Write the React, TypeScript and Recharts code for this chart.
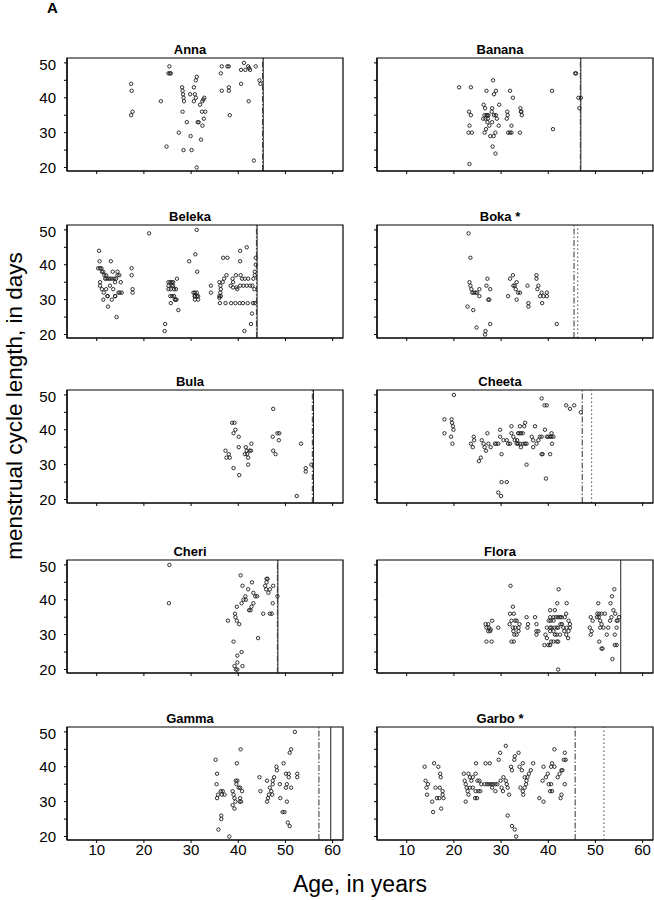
import React from 'react';
import { ScatterChart, Scatter, XAxis, YAxis, ReferenceLine, ReferenceArea } from 'recharts';

const ageTicks = [10, 20, 30, 40, 50, 60];
const cycleTicks = [20, 25, 30, 35, 40, 45, 50];
const AGE_MIN = 3.7;
const AGE_MAX = 62.2;
const CYC_MIN = 19;
const CYC_MAX = 51.4;

const anna = [[17.3,44],[17.4,42],[17.6,36],[17.3,35],[23.6,39],[24.8,26],[25.4,49],[25.2,47],[25.5,47],[25.7,47],[27.4,30],[28.1,43],[28.2,42],[28.3,41],[28.4,40],[28.5,39],[28.2,36],[28.4,25],[29.1,33],[29.8,41],[29.9,29],[30.1,25],[30.6,43],[30.6,39],[30.8,41],[31.0,45],[31.2,46],[31.0,40],[31.2,20],[31.4,33],[31.6,33],[31.9,38],[32.1,28],[32.4,32],[32.3,36],[33.0,36],[32.4,39],[32.6,39.5],[32.8,40],[32.7,34],[36.3,47],[36.5,49],[36.5,42],[37.7,49],[38.0,49],[38.0,43],[38.0,42],[38.2,35],[40.6,48],[41.5,48],[40.6,44],[41.2,50],[42.1,49],[42.3,48.5],[42.5,48],[42.2,39],[43.3,22],[43.7,49],[44.5,45],[44.7,44]];
const banana = [[21.1,43],[23.6,43],[23.2,36],[23.6,35],[23.3,32],[23.1,30],[23.8,30],[23.3,21],[26.3,38],[26.6,37],[26.9,42],[26.5,35],[26.2,34],[26.7,34],[27.1,33],[26.8,31],[26.5,30],[26.9,35],[27.1,35],[27.3,35],[27.2,34],[27.5,32],[27.7,29],[28.0,36],[28.1,37],[28.1,33],[28.3,45],[28.2,26],[28.4,29],[28.5,35],[28.9,35],[28.5,41],[28.9,42],[28.8,24],[28.8,30],[29.1,34],[29.5,32],[29.6,38],[31.2,34],[31.3,36],[31.4,35],[31.5,30],[31.9,30],[32.2,30],[31.9,42],[32.2,32],[32.5,40],[34.0,30],[34.1,37],[34.2,36],[34.3,36],[34.4,35],[40.8,42],[41.0,31],[45.7,47],[45.9,47],[46.4,40],[46.9,40],[46.6,37]];
const beleka = [[10.5,44],[10.6,41],[10.3,39],[10.7,39],[11.0,39],[13.0,41],[11.1,38],[11.4,38],[11.6,37],[10.7,35],[10.7,34],[11.8,36],[12.1,36],[12.5,36],[12.8,36],[13.2,36],[13.7,36],[14.1,36],[12.0,37],[13.4,38],[14.4,38],[13.9,35],[14.4,37],[14.8,37],[15.1,35],[11.1,33],[12.0,33],[12.8,34],[13.5,33],[14.6,32],[14.9,32],[15.3,32],[11.5,32],[12.3,31],[13.9,31],[17.4,39],[17.4,37],[17.6,33],[17.6,32],[21.1,49],[25.2,35],[25.6,35],[25.9,35],[26.2,35],[25.2,34],[25.9,34],[26.2,34],[27.0,36],[25.2,33],[25.7,33],[26.4,33],[26.8,33],[25.6,31],[29.6,41],[30.9,43],[31.2,50],[31.3,38],[30.5,32],[30.8,32],[31.2,32],[30.8,31],[31.5,31],[34.2,34],[34.2,32],[36.0,35],[36.2,34],[36.3,33],[36.2,32],[36.3,31],[36.7,35],[37.0,36],[37.5,37],[36.8,42],[37.7,42],[38.8,36],[38.9,35],[38.4,34],[38.9,33.5],[39.6,33.5],[40.4,34],[41.1,34],[41.8,34],[42.5,34],[43.0,34],[40.4,44],[41.8,45],[40.4,41],[39.5,37],[40.5,37],[40.8,36],[41.4,36],[42.1,36],[43.5,38],[43.5,37],[43.2,36],[43.7,42],[43.7,40],[43.4,33],[39.8,33],[11.4,30],[12.3,31],[13.2,30],[13.9,31],[12.4,28],[14.2,25],[24.5,23],[24.4,21],[26.0,31],[26.4,31],[26.9,30],[26.6,30],[26.7,30],[25.7,29],[27.3,27],[30.8,30],[31.5,30],[30.8,31],[31.2,31],[36.1,29],[37.3,29],[38.5,29],[39.4,29],[40.3,29],[41.0,29],[42.0,29],[43.1,29],[36.0,31],[36.0,30.5],[42.7,23],[41.3,21],[42.9,26],[43.5,29]];
const boka = [[23.1,49],[23.5,42],[23.3,35],[23.5,34],[23.7,33],[23.9,32],[24.2,32],[24.6,32],[24.9,32],[25.4,33],[25.4,31],[27.1,36],[26.9,34],[27.7,33],[27.3,30],[27.5,30],[31.9,36],[32.5,37],[32.6,34],[32.9,34],[33.3,35],[33.1,33],[33.6,32],[34.0,32],[31.5,31],[33.3,30],[35.6,34],[37.5,37],[37.5,36],[37.9,34],[37.7,33],[38.6,32],[39.0,31],[39.7,32],[39.7,31],[38.3,31],[35.8,29],[35.8,28],[38.7,29],[22.9,28],[24.1,27],[24.8,22],[26.7,21],[26.6,20],[27.7,23],[41.8,23]];
const bula = [[47.4,46],[38.7,42],[39.2,42],[39.0,39],[39.4,40],[40.1,38],[37.3,34],[37.5,32],[38.0,33],[38.2,32],[39.0,29],[40.1,35],[40.2,27],[41.6,35],[41.8,34],[41.4,33],[41.9,33],[42.1,32],[42.4,34],[42.7,34],[42.8,36],[42.1,30],[47.3,38],[47.4,34],[47.9,33],[48.3,39],[48.7,39],[48.6,37],[52.4,21],[53.3,36],[54.3,29],[54.3,28],[55.5,30]];
const cheeta = [[20.0,50],[38.6,49],[39.2,47],[39.7,47],[43.8,47],[44.6,46],[45.5,47],[46.9,45],[18.0,43],[19.5,43],[19.6,42],[19.8,41],[19.9,40],[18.0,39],[19.4,38],[19.7,36],[23.6,36],[24.0,35],[24.2,38],[24.3,37],[25.9,37],[26.3,36],[26.5,35],[26.8,34],[25.3,31],[25.7,32],[27.1,39],[27.3,36],[27.8,35],[28.7,36],[29.0,36],[29.4,36],[29.8,40],[29.8,38],[30.5,37],[31.2,37],[31.5,36],[31.9,36],[32.2,41],[32.2,39],[32.6,38],[32.9,37],[33.4,37],[33.6,39],[33.9,39],[34.2,39],[34.6,39],[34.0,41],[34.9,41],[35.1,42],[33.3,36],[33.6,36],[34.0,36],[34.7,36],[35.1,36],[35.4,36],[34.2,35],[35.4,30],[36.5,38],[36.8,37],[37.2,41],[37.5,36],[37.9,37],[36.8,35],[38.2,38],[38.6,38],[39.3,40],[39.7,38],[40.0,38],[40.4,38],[40.7,38],[41.1,38],[38.6,33],[38.8,33],[40.4,33],[39.5,26],[40.7,39],[40.8,36],[30.1,33],[30.1,25],[31.2,25],[29.4,22],[30.0,21]];
const cheri = [[25.4,50],[25.3,39],[37.8,34],[39.0,28],[39.2,21],[39.5,20],[39.8,20],[39.8,22],[39.8,24],[39.3,36],[39.4,35],[39.7,34],[39.7,38],[40.2,33],[40.5,47],[40.7,39],[40.9,44],[40.7,25],[40.9,21],[41.1,40],[41.5,41],[41.6,40],[42.1,43],[42.3,37],[42.6,37],[42.8,38],[43.2,39],[42.9,45],[43.2,42],[43.6,41],[44.0,41],[44.2,29],[45.3,36],[45.7,44],[45.9,43],[46.0,46],[46.0,45],[46.2,46],[46.4,42],[46.7,43],[46.7,36],[47.1,36],[47.4,44],[47.3,39],[48.3,41]];
const flora = [[26.7,33],[27.3,33],[26.9,32],[27.4,32],[27.7,31],[27.3,31],[27.8,31.5],[28.1,34],[26.9,28],[28.0,28],[29.4,32],[32.0,44],[32.5,38],[31.9,36],[32.7,36],[32.2,34],[33.0,34],[33.3,34],[31.8,33],[32.5,32],[33.0,32],[33.7,32],[33.9,33],[32.6,31],[33.3,30],[32.8,30],[33.7,31],[32.2,28],[32.7,28],[35.4,35],[35.7,33],[35.6,32],[37.2,35],[37.5,33],[37.5,31],[37.5,30],[37.9,31],[39.4,30],[39.2,27],[39.7,29],[40.4,35],[40.1,34],[40.5,34],[41.1,34],[40.4,37],[41.4,37],[40.4,32],[40.7,32],[41.3,32],[41.8,32],[42.1,32],[39.7,32],[40.4,31],[41.1,31],[41.4,30],[41.8,30],[40.0,27],[40.4,27],[40.6,28],[41.1,28],[41.8,28],[42.1,28],[41.1,35],[41.6,35],[42.1,35],[42.5,35],[42.8,35],[41.9,39],[42.2,43],[42.1,20],[42.6,33],[42.9,33],[43.2,32],[43.4,31],[43.9,32],[44.3,31],[44.6,32],[43.9,39],[43.8,36],[43.5,35],[44.3,34],[44.6,33],[42.5,30],[43.8,30],[44.2,29],[49.0,35],[49.4,34],[48.8,32],[49.2,31],[49.0,30],[50.4,36],[50.8,36],[51.3,36],[52.0,36],[50.6,39],[50.3,35],[50.7,35],[51.0,34],[51.3,33],[51.0,32],[51.7,32],[50.8,28],[51.3,26],[51.5,26],[52.4,30],[52.7,32],[53.1,34],[53.4,35],[53.8,37],[53.5,41],[54.0,43],[53.2,39],[54.2,36],[54.5,34],[54.7,34],[54.5,32],[54.1,30],[54.1,27],[54.5,27],[53.6,23],[55.0,35]];
const gamma = [[35.2,42],[35.5,38],[35.4,35],[35.7,32],[35.5,31],[35.8,22],[36.3,33],[36.7,33],[37.1,32],[36.5,32],[36.4,26],[36.4,25],[38.1,20],[38.8,33],[39.0,32],[39.2,31],[39.4,30],[38.8,29],[39.2,28],[39.6,35],[39.5,36],[39.8,36],[39.7,41],[40.1,34],[40.4,31],[40.6,30],[40.3,30],[40.5,45],[40.8,33],[40.4,34],[44.5,37],[44.7,33],[46.1,36],[46.1,30],[46.3,31],[46.5,32],[46.7,34],[47.0,33],[47.2,32],[47.3,35],[47.6,37],[47.3,36],[48.1,40],[48.2,39],[48.8,35],[48.9,31],[49.4,27],[49.8,27],[49.6,41],[50.1,38],[50.3,35],[50.1,34],[50.7,37],[50.7,38],[50.3,30],[50.5,24],[50.9,23],[50.9,44],[51.2,45],[52.0,50],[52.5,37],[52.5,38],[51.2,34]];
const garbo = [[13.8,40],[14.0,36],[14.5,35],[14.2,34],[14.3,32],[15.4,30],[15.6,27],[15.8,41],[16.1,34],[16.4,31],[16.9,31],[16.7,40],[17.1,38],[17.2,37],[17.0,34],[17.6,33],[17.6,32],[17.8,31],[17.3,28],[22.1,38],[22.3,36],[22.5,35],[22.7,34],[22.9,33],[23.1,32],[22.5,30],[23.1,38],[23.4,37],[23.7,36],[24.0,37],[24.6,38],[23.4,34],[24.0,34],[24.5,31],[24.9,31],[24.7,41],[24.6,33],[25.2,33],[25.6,33],[25.0,36],[25.4,36],[25.8,35],[26.5,35],[27.0,35],[27.4,35],[26.7,41],[27.6,41],[27.9,35],[28.3,35],[28.8,35],[29.2,35],[28.1,34],[28.8,33],[29.5,42],[29.8,44],[30.5,37],[31.0,36],[31.2,35],[31.4,34],[31.7,32],[29.9,36],[30.1,34],[30.4,33],[31.0,46],[32.1,40],[32.3,39],[32.8,42],[32.9,43],[31.4,26],[32.3,23],[32.9,22],[33.2,20],[33.7,44],[33.9,40],[34.4,39],[34.6,41],[34.1,34],[34.6,33],[34.7,32],[35.0,34],[35.3,35],[35.4,36],[35.6,37],[35.9,38],[36.3,39],[36.8,41],[35.0,37],[39.0,40],[39.5,37],[39.9,38],[40.1,35],[38.8,36],[38.1,31],[39.0,30],[40.4,33],[40.6,35],[40.8,33],[40.8,41],[41.3,45],[40.6,40],[41.3,40],[42.0,37],[42.8,39],[42.4,38],[42.6,31],[42.8,32],[43.0,39],[43.3,42],[43.7,42],[43.5,44],[43.5,35]];

const names = ['Anna', 'Banana', 'Beleka', 'Boka *', 'Bula', 'Cheeta', 'Cheri', 'Flora', 'Gamma', 'Garbo *'];
const series = [anna, banana, beleka, boka, bula, cheeta, cheri, flora, gamma, garbo];
// vertical reference lines per panel (ages; null = absent)
const solidLines = [45.3, 46.9, 44.0, null, 55.95, null, 48.4, 55.36, 59.6, null];
const dashDotLines = [45.15, 46.8, 43.85, 45.46, 55.7, 47.2, 48.3, null, 57.1, 45.7];
const dottedLines = [null, null, null, 46.24, null, 49.2, null, null, null, 51.8];

const COL_LEFT = [67, 377];
const ROW_TOP = [58, 225, 390, 560, 727];
const PLOT_W = 276;
const PLOT_H = 113;
const Y_AXIS_W = 50;
const FONT = '"Liberation Sans", Arial, Helvetica, sans-serif';

const dot = (props: any) => {
  const { cx, cy } = props;
  if (cx == null || cy == null) return <g />;
  return <circle cx={cx} cy={cy} r={1.7} fill="none" stroke="#1a1a1a" strokeWidth={0.9} />;
};

function Panel({ idx }: { idx: number }) {
  const col = idx % 2;
  const row = Math.floor(idx / 2);
  const bottom = row === 4;
  const xh = bottom ? 30 : 6;
  const data = series[idx].map(([x, y]) => ({ x, y }));
  const left = COL_LEFT[col] - Y_AXIS_W;
  const top = ROW_TOP[row] - 2;
  return (
    <div style={{ position: 'absolute', left, top }}>
      <ScatterChart
        width={Y_AXIS_W + PLOT_W + 2}
        height={2 + PLOT_H + xh}
        margin={{ top: 2, right: 2, bottom: 0, left: 0 }}
      >
        <XAxis
          type="number"
          dataKey="x"
          domain={[AGE_MIN, AGE_MAX]}
          ticks={ageTicks}
          allowDataOverflow
          height={xh}
          tickSize={3}
          tickMargin={1}
          axisLine={{ stroke: '#000', strokeWidth: 1.2 }}
          tickLine={{ stroke: '#000' }}
          tick={{ fill: '#000', fontSize: 15, fontFamily: FONT }}
          tickFormatter={(v: number) => (bottom ? String(v) : '')}
        />
        <YAxis
          type="number"
          dataKey="y"
          domain={[CYC_MIN, CYC_MAX]}
          ticks={cycleTicks}
          allowDataOverflow
          width={Y_AXIS_W}
          tickSize={3}
          tickMargin={8}
          axisLine={{ stroke: '#000', strokeWidth: 1.2 }}
          tickLine={{ stroke: '#000' }}
          tick={{ fill: '#000', fontSize: 15, fontFamily: FONT }}
          tickFormatter={(v: number) => (col === 0 && v % 10 === 0 ? String(v) : '')}
        />
        <ReferenceArea
          x1={AGE_MIN}
          x2={AGE_MAX}
          y1={CYC_MIN}
          y2={CYC_MAX}
          fill="none"
          fillOpacity={0}
          stroke="#000"
          strokeWidth={1.2}
        />
        {solidLines[idx] != null && (
          <ReferenceLine x={solidLines[idx] as number} stroke="#222" strokeWidth={1} />
        )}
        {dashDotLines[idx] != null && (
          <ReferenceLine x={dashDotLines[idx] as number} stroke="#333" strokeWidth={1} strokeDasharray="6 2 1.5 2" />
        )}
        {dottedLines[idx] != null && (
          <ReferenceLine x={dottedLines[idx] as number} stroke="#444" strokeWidth={1} strokeDasharray="1.5 2.5" />
        )}
        <Scatter data={data} dataKey="y" shape={dot} isAnimationActive={false} />
      </ScatterChart>
    </div>
  );
}

export default function App() {
  return (
    <div style={{ position: 'absolute', left: 0, top: 0, width: 654, height: 900, background: '#fff', fontFamily: FONT }}>
      {names.map((n, i) => (
        <Panel key={n} idx={i} />
      ))}
      <svg width={654} height={900} style={{ position: 'absolute', left: 0, top: 0, pointerEvents: 'none' }}>
        <text x={47} y={13} fontSize={15} fontWeight="bold" fontFamily={FONT} fill="#000">A</text>
        {names.map((n, i) => {
          const col = i % 2;
          const row = Math.floor(i / 2);
          const cx = col === 0 ? 190 : 500;
          return (
            <text key={n} x={cx} y={ROW_TOP[row] - 4.5} textAnchor="middle" fontSize={13} fontWeight="bold" fontFamily={FONT} fill="#000">
              {n}
            </text>
          );
        })}
        <text
          x={22}
          y={406}
          transform="rotate(-90 22 406)"
          textAnchor="middle"
          fontSize={22.5}
          fontFamily={FONT}
          fill="#000"
        >
          menstrual cycle length, in days
        </text>
        <text x={360} y={892} textAnchor="middle" fontSize={23} fontFamily={FONT} fill="#000">
          Age, in years
        </text>
      </svg>
    </div>
  );
}
